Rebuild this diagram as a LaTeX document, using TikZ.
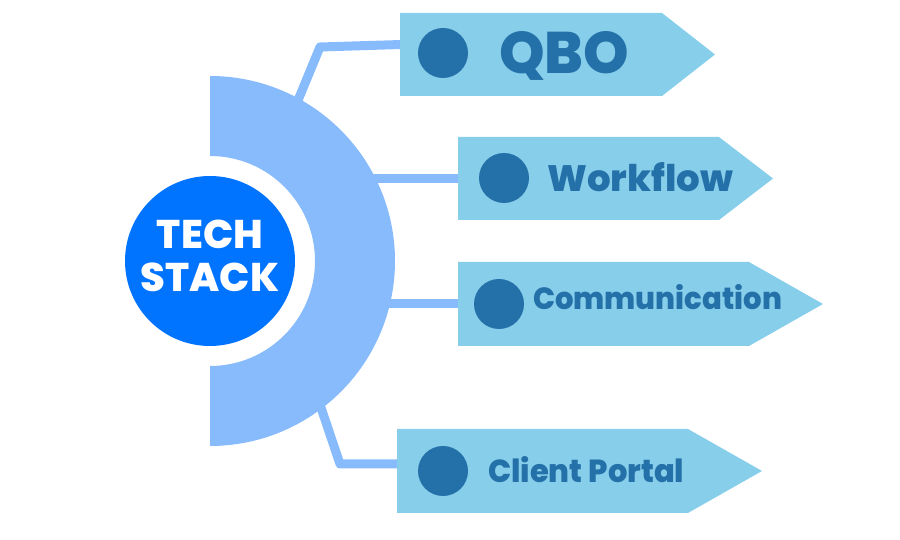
\documentclass[tikz,border=0pt]{standalone}
\usepackage{fontspec}
\setmainfont{Poppins}
\IfFontExistsTF{Poppins ExtraBold}{\newfontfamily\heavy{Poppins ExtraBold}}{\newcommand\heavy{\bfseries}}
\usetikzlibrary{calc}
\definecolor{ringc}{HTML}{88BBFC}
\definecolor{hubc}{HTML}{0073FF}
\definecolor{boxc}{HTML}{87CEEB}
\definecolor{darkc}{HTML}{2470A8}
\newcommand\fitlabel[3]{\resizebox{#1pt}{#2pt}{\heavy\fontsize{40}{40}\selectfont #3}}
\begin{document}
\begin{tikzpicture}[x=1pt,y=1pt,
  hub/.style={circle,fill=hubc,minimum size=170,inner sep=0},
  hubtext/.style={text=white,align=center,inner sep=0,
    font=\heavy\fontsize{40}{45}\selectfont},
  boxrect/.style={rectangle,inner sep=0,outer sep=0,minimum height=83},
  dotc/.style={circle,fill=darkc,minimum size=50,inner sep=0},
  lbl/.style={text=darkc,inner sep=0,anchor=base west},
  conn/.style={draw=ringc,line width=9,line join=round}]
\useasboundingbox (0,0) rectangle (900,540);
% hub
\coordinate (hub) at (210,279);
% boxes (rectangular bodies)
\node[boxrect,minimum width=262,anchor=north west] (qbo) at (400,527) {};
\node[boxrect,minimum width=261,anchor=north west] (wf) at (458,403) {};
\node[boxrect,minimum width=291,minimum height=84,anchor=north west] (com) at (458,278) {};
\node[boxrect,minimum width=291,minimum height=84,anchor=north west] (cp) at (397,111) {};
% connector corners
\coordinate (k1) at (320,493);
\coordinate (k4) at (340,76);
\coordinate (s1) at ($(hub)+(60.8:170)$);
\coordinate (s2) at ($(hub)+(0:140)$);
\coordinate (s4) at ($(hub)+(-51.3:170)$);
% connectors
\draw[conn] (s1) -- (k1) -- ($(qbo.north west)!0.38!(qbo.south west)$);
\draw[conn] (s2 |- wf.west) -- (wf.west);
\draw[conn] (s2 |- com.west) -- (com.west);
\draw[conn] (s4) -- (k4) -- (k4 -| cp.west);
% half ring
\fill[ringc] (210,464) arc[start angle=90,end angle=-90,radius=185]
  -- (210,174) arc[start angle=-90,end angle=90,radius=105] -- cycle;
\node[hub] (hubc) at (hub) {};
\node[hubtext] (hubt) at ($(hub)+(0,5)$) {TECH\\[-2pt]STACK};
% arrow boxes
\fill[boxc] (qbo.north west) -- (qbo.north east) -- ($(qbo.east)+(53,0)$) -- (qbo.south east) -- (qbo.south west) -- cycle;
\fill[boxc] (wf.north west) -- (wf.north east) -- ($(wf.east)+(54,0)$) -- (wf.south east) -- (wf.south west) -- cycle;
\fill[boxc] (com.north west) -- (com.north east) -- ($(com.east)+(74,0)$) -- (com.south east) -- (com.south west) -- cycle;
\fill[boxc] (cp.north west) -- (cp.north east) -- ($(cp.east)+(74,0)$) -- (cp.south east) -- (cp.south west) -- cycle;
% dots
\node[dotc] (d1) at (443,487) {};
\node[dotc] (d2) at (504,362) {};
\node[dotc] (d3) at (499,236) {};
\node[dotc] (d4) at (443,69) {};
% labels
\node[lbl] (t1) at (499,466) {\fitlabel{130}{42}{QBO}};
\node[lbl] (t2) at (547,348) {\fitlabel{186}{29}{Workflow}};
\node[lbl] (t3) at (533,230) {\fitlabel{249}{25}{Communication}};
\node[lbl] (t4) at (488,57) {\fitlabel{196}{26}{Client Portal}};
\end{tikzpicture}
\end{document}
